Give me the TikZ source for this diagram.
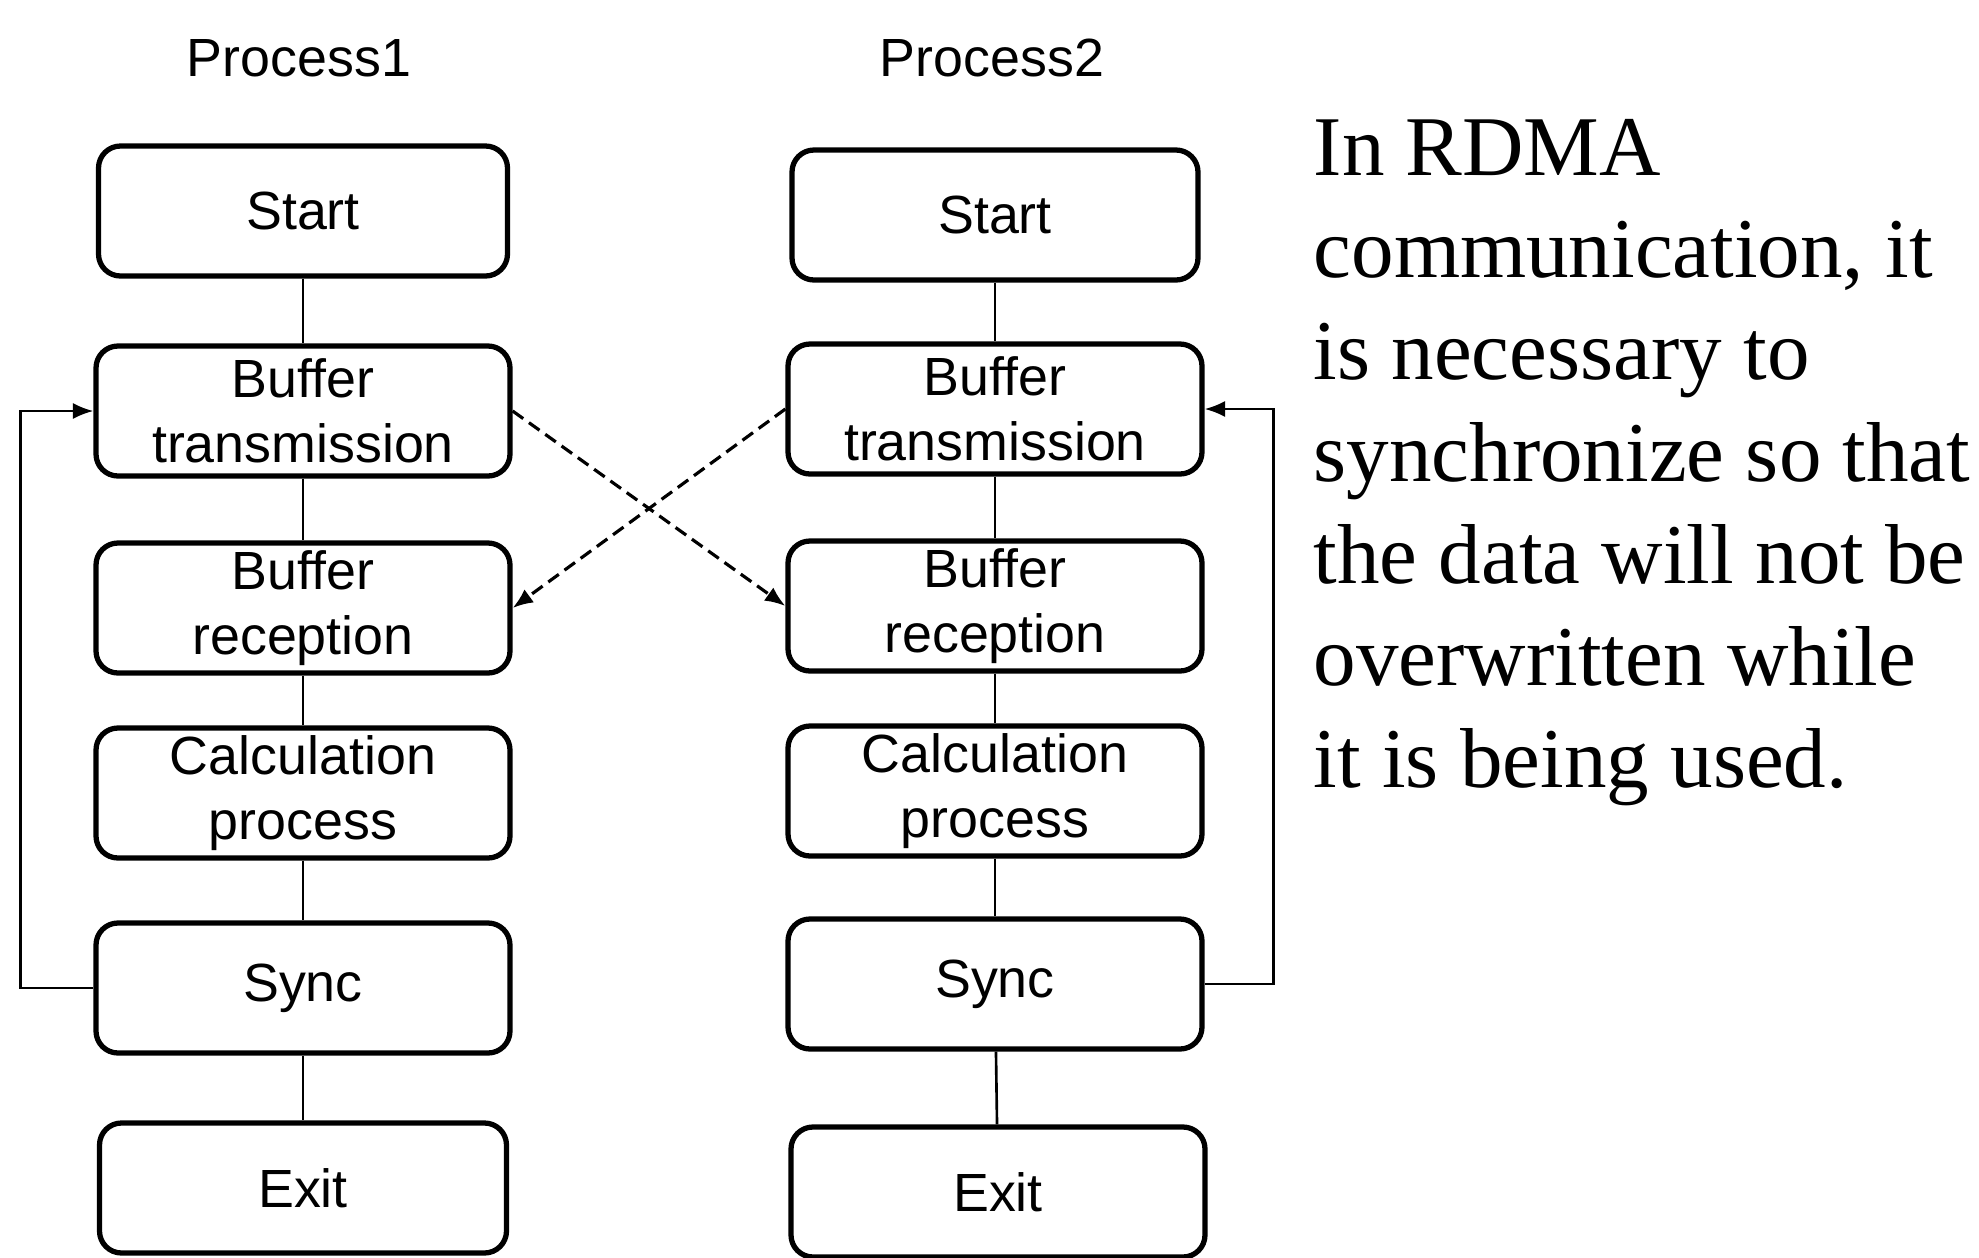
\documentclass[tikz,border=0pt]{standalone}
\usepackage{fontspec}
\setmainfont{Liberation Serif}
\setsansfont{Liberation Sans}
\usetikzlibrary{arrows.meta, positioning}
\tikzstyle{procbox} = [draw, rectangle, rounded corners=0.22cm, line width=1.5pt, minimum height=1.3cm, minimum width=4.14cm, inner sep=0pt, align=center, font=\sffamily\fontsize{15.3}{18.5}\selectfont]
\tikzstyle{heading} = [inner sep=0pt, font=\sffamily\fontsize{15.3}{18.5}\selectfont]
\tikzstyle{note} = [inner sep=0pt, align=left, font=\fontsize{24.2}{29}\selectfont]
\tikzstyle{link} = [line width=0.75pt]
\tikzstyle{arrow} = [line width=0.75pt,-{Latex[length=5.8pt,width=4.6pt]}]
\tikzstyle{msgarrow} = [arrow, line width=0.9pt, dash pattern=on 3.7pt off 2pt]

\begin{document}
\begin{tikzpicture}[node distance=2cm]
            \useasboundingbox (0,0) rectangle (19.79,-12.58);
            % Process 1
                  \node (Start1) [procbox, minimum width=4.09cm] at (3.03,-2.11) {Start};
                  \node (Trans1) [procbox, below of=Start1] {Buffer\\transmission};
                  \node (Recv1) [procbox, below of=Trans1, yshift=0.03cm] {Buffer\\reception};
                  \node (Calc1) [procbox, below of=Recv1, yshift=0.15cm] {Calculation\\process};
                  \node (Sync1) [procbox, below of=Calc1, yshift=0.05cm] {Sync};
                  \node (Exit1) [procbox, below of=Sync1, minimum width=4.07cm] {Exit};

                  % Process 2
                  \node (Start2) [procbox, right of=Start1, xshift=4.92cm, yshift=-0.04cm, minimum width=4.06cm] {Start};
                  \node (Trans2) [procbox, below of=Start2, yshift=0.06cm] {Buffer\\transmission};
                  \node (Recv2) [procbox, below of=Trans2, yshift=0.03cm] {Buffer\\reception};
                  \node (Calc2) [procbox, below of=Recv2, yshift=0.15cm] {Calculation\\process};
                  \node (Sync2) [procbox, below of=Calc2, yshift=0.07cm] {Sync};
                  \node (Exit2) [procbox, below of=Sync2, yshift=-0.08cm, xshift=0.03cm] {Exit};

                  % Headings
                  \node (Proc1) [heading, above of=Start1, yshift=-0.47cm, xshift=-0.04cm] {Process1};
                  \node (Proc2) [heading, above of=Start2, yshift=-0.43cm, xshift=-0.03cm] {Process2};

            % Flow lines
            \draw [link] (Start1) -- (Trans1);
            \draw [link] (Trans1) -- (Recv1);
            \draw [link] (Recv1) -- (Calc1);
            \draw [link] (Calc1) -- (Sync1);
            \draw [link] (Sync1) -- (Exit1);
            \draw [link] (Start2) -- (Trans2);
            \draw [link] (Trans2) -- (Recv2);
            \draw [link] (Recv2) -- (Calc2);
            \draw [link] (Calc2) -- (Sync2);
            \draw [link] (Sync2) -- (Exit2);
            % Buffer exchange
            \draw [msgarrow] (Trans1.east) -- (Recv2.west);
            \draw [msgarrow] (Trans2.west) -- (Recv1.east);
            % Sync loops
            \draw [arrow] (Sync1.west) -- ++(-0.73,0) |- (Trans1.west);
            \draw [arrow] (Sync2.east) -- ++(0.69,0) |- (Trans2.east);

            % Note
            \node (Note) [note, anchor=north west] at (13.13,-1.19) {In RDMA\\communication, it\\is necessary to\\synchronize so that\\the data will not be\\overwritten while\\it is being used.};
        \end{tikzpicture}
\end{document}
